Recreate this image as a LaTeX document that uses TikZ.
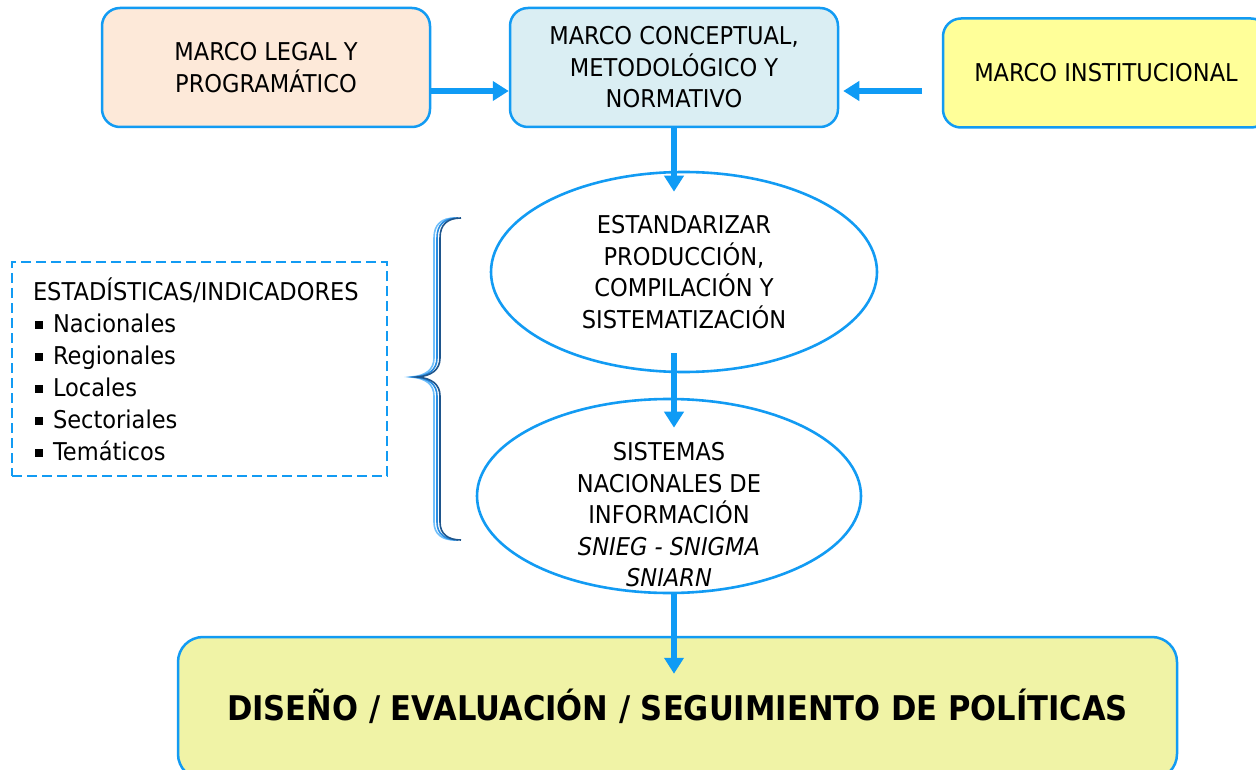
\documentclass[tikz,border=0pt]{standalone}
\usepackage{fontspec}
\setmainfont{DejaVu Sans}[FakeStretch=0.92]
\newfontfamily\polfont{DejaVu Sans}[FakeStretch=0.9]
\usetikzlibrary{arrows.meta,shapes.geometric}
\definecolor{bordblue}{RGB}{18,155,243}
\definecolor{arrblue}{RGB}{15,155,245}
\definecolor{legalfill}{RGB}{253,233,217}
\definecolor{conceptfill}{RGB}{218,238,243}
\definecolor{instfill}{RGB}{255,255,153}
\definecolor{polfill}{RGB}{240,243,166}
\definecolor{brlight}{RGB}{110,190,250}
\definecolor{brmid}{RGB}{40,140,225}
\definecolor{brdark}{RGB}{30,85,140}
\newcommand{\sqbul}{\hspace*{2pt}\rule[3.5pt]{8pt}{8pt}\hspace{10pt}}
\begin{document}
\begin{tikzpicture}[x=1pt,y=-1pt,
  box/.style={draw=bordblue, line width=2.5pt, rounded corners=18pt, align=center, inner sep=0pt, font=\fontsize{24.5}{31.5}\selectfont},
  ell/.style={ellipse, draw=bordblue, line width=2.6pt, fill=white, inner sep=0pt, align=center, font=\fontsize{24.5}{31.5}\selectfont},
  plain/.style={align=center, inner sep=0pt, font=\fontsize{24.5}{31.5}\selectfont},
  arr/.style={draw=arrblue, line width=6pt, -{Triangle[width=19pt,length=16pt]}},
  dashbox/.style={draw=bordblue, line width=2.2pt, dash pattern=on 10pt off 5pt, inner sep=0pt},
  bracestroke/.style={line width=1.6pt}]
\useasboundingbox (0,0) rectangle (1256,770);
\clip (0,0) rectangle (1256,770);

\node[box, fill=legalfill, minimum width=328pt, minimum height=119pt] (legal) at (266,67.5) {MARCO LEGAL Y\\PROGRAMÁTICO};
\node[box, fill=conceptfill, minimum width=328pt, minimum height=119pt] (concept) at (674,67.5) {MARCO CONCEPTUAL,\\METODOLÓGICO Y\\NORMATIVO};
\node[box, fill=instfill, minimum width=326pt, minimum height=109pt] (inst) at (1106,73) {\raisebox{-8pt}{MARCO INSTITUCIONAL}};

\node[ell, minimum width=386pt, minimum height=200pt] (e1) at (684,272) {ESTANDARIZAR\\PRODUCCIÓN,\\COMPILACIÓN Y\\SISTEMATIZACIÓN};
\node[ell, minimum width=384pt, minimum height=194pt] (e2) at (669,496) {};
\node[plain] (e2t) at (669,515) {SISTEMAS\\NACIONALES DE\\INFORMACIÓN\\\textit{SNIEG - SNIGMA}\\\textit{SNIARN}};

\node[box, rounded corners=25pt, fill=polfill, minimum width=999pt, minimum height=142pt, text height=25pt, text depth=0pt, font=\polfont\bfseries\fontsize{34}{40}\selectfont] (pol) at (677.5,708) {DISEÑO / EVALUACIÓN / SEGUIMIENTO DE POLÍTICAS};

\node[dashbox, minimum width=375pt, minimum height=214pt] (stats) at (199.5,369) {\parbox{333pt}{\fontsize{24.5}{32}\selectfont
ESTADÍSTICAS/INDICADORES\\
\sqbul Nacionales\\
\sqbul Regionales\\
\sqbul Locales\\
\sqbul Sectoriales\\
\sqbul Temáticos}};

% brace
\foreach \dx/\c in {-3/brlight, 0/brmid, 3/brdark}{
  \draw[bracestroke, color=\c, xshift=\dx pt]
    (458,218) .. controls (445,218) and (437,224) .. (437,238)
    -- (437,358) .. controls (437,370) and (428,376) .. (414,377)
    .. controls (428,378) and (437,384) .. (437,396)
    -- (437,522) .. controls (437,534) and (445,540) .. (458,540);
}

% arrows
\coordinate (instarrow) at (922,91);
\draw[arr] ([yshift=-23.5pt]legal.east) -- ([yshift=-23.5pt]concept.west);
\draw[arr] (instarrow) -- ([yshift=-23.5pt,xshift=4pt]concept.east);
\draw[arr, shorten >=-21pt] (concept.south) -- (concept.south |- e1.north);
\draw[arr, shorten <=-20pt, shorten >=-30pt] (concept.south |- e1.south) -- (concept.south |- e2.north);
\draw[arr, shorten >=-38pt] (concept.south |- e2.south) -- (concept.south |- pol.north);
\end{tikzpicture}
\end{document}
